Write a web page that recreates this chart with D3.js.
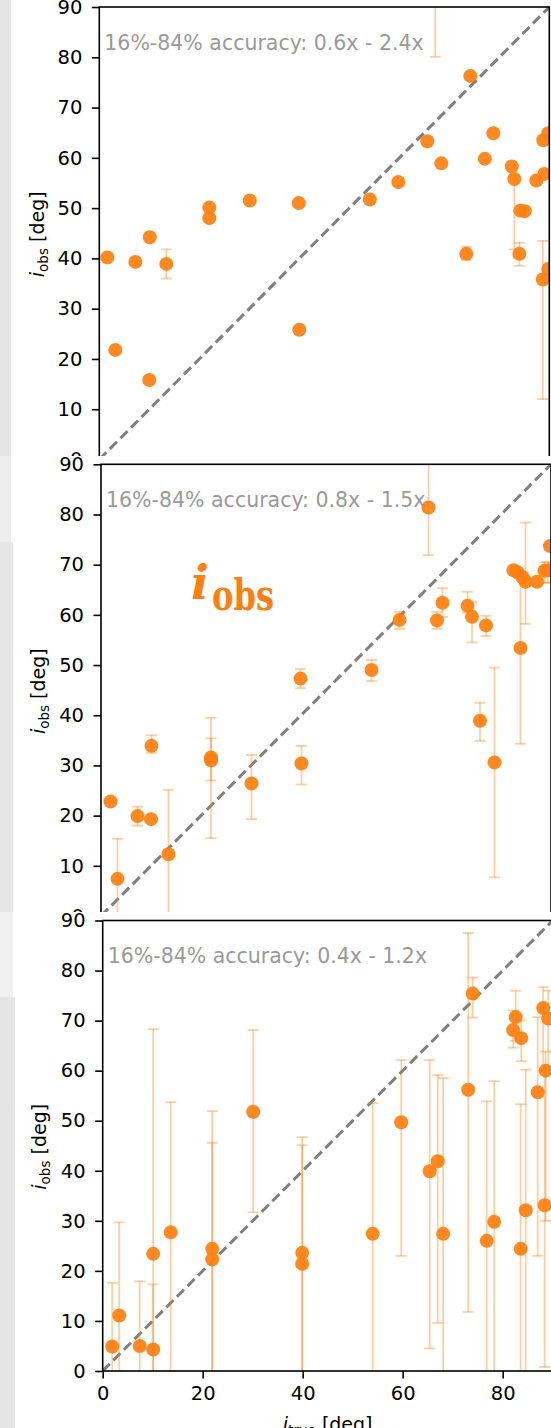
<!DOCTYPE html>
<html>
<head>
<meta charset="utf-8">
<script src="https://cdn.jsdelivr.net/npm/d3@7"></script>
<style>
  body { margin: 0; background: #fff; }
  svg { display: block; font-family: "DejaVu Sans", sans-serif; }
</style>
</head>
<body>
<div id="chart"></div>
<script>
'use strict'

// Tick values (deg).
const yTicks = [0, 10, 20, 30, 40, 50, 60, 70, 80, 90];
const xTicks = [0, 20, 40, 60, 80];

// Panel A: true vs observed inclination, with 16-84% ranges (null = no bar drawn).
const trueA = [1.6, 3.2, 7.2, 10.1, 10.0, 13.4, 22.0, 22.0, 30.1, 39.9, 40.0, 54.1, 59.8, 65.6, 67.2, 68.4,
    73.4, 74.2, 77.1, 78.8, 82.5, 83.0, 84.0, 84.2, 85.1, 87.4, 88.7, 88.8, 89.0, 89.8, 89.8];
const obsA = [40.2, 21.8, 39.3, 44.2, 15.8, 38.9, 50.1, 48.0, 51.5, 51.0, 25.8, 51.7, 55.2, 63.3, 95, 58.9,
    40.9, 76.3, 59.8, 64.9, 58.3, 55.8, 40.9, 49.5, 49.4, 55.5, 35.8, 63.5, 56.8, 64.9, 37.9];
const loA = [null, null, 38.6, null, null, 36.0, null, null, null, null, null, null, null, null, 80.1, null,
    39.7, null, null, null, null, 41.8, 38.5, null, null, null, 12.0, null, null, null, null];
const hiA = [null, null, 40.0, null, null, 41.8, null, null, null, null, null, null, null, null, 100, null,
    42.3, null, null, null, null, 56.5, 43.1, null, null, null, 43.5, null, null, null, null];

// Panel B.
const trueB = [1.9, 3.3, 7.3, 10.0, 10.1, 13.5, 22.0, 22.0, 30.1, 39.9, 40.1, 54.1, 59.7, 65.5, 67.2, 68.3,
    73.3, 74.2, 75.8, 77.0, 78.7, 82.5, 83.3, 83.9, 84.3, 84.9, 87.2, 88.7, 89.4, 89.8];
const obsB = [22.8, 7.4, 19.9, 19.3, 33.9, 12.3, 31.6, 31.0, 26.4, 47.3, 30.4, 49.0, 59.0, 81.4, 58.9, 62.4,
    61.8, 59.6, 38.9, 57.9, 30.6, 68.9, 68.5, 53.4, 67.5, 66.6, 66.6, 68.8, 68.9, 73.7];
const loB = [null, -5, 18.0, null, 32.5, -5, 27.0, 15.5, 19.3, 45.4, 26.2, 46.8, 57.2, 71.9, 57.2, 59.6,
    60.5, 54.5, 34.9, 55.8, 7.7, null, null, 34.3, null, 58.2, null, 66.4, 66.4, null];
const hiB = [null, 15.4, 21.8, null, 36.0, 25.1, 35.4, 39.5, 32.1, 49.2, 33.9, 51.0, 60.6, 95, 60.6, 65.3,
    64.6, 62.5, 42.5, 59.8, 49.5, null, null, 68.7, null, 78.4, null, 70.5, 70.5, null];

// Panel C.
const trueC = [1.9, 3.3, 7.4, 10.1, 10.1, 13.6, 21.9, 21.9, 30.1, 39.9, 39.9, 54.0, 59.7, 65.4, 67.0, 68.1,
    73.1, 74.0, 76.8, 78.3, 82.1, 82.6, 83.7, 83.6, 84.6, 87.0, 88.1, 88.6, 88.4, 89.1];
const obsC = [4.9, 11.1, 5.0, 4.3, 23.4, 27.7, 24.4, 22.3, 51.8, 23.6, 21.4, 27.4, 49.7, 39.9, 41.9, 27.4,
    56.2, 75.4, 26.0, 29.8, 68.1, 70.7, 66.5, 24.4, 32.1, 55.7, 72.5, 60.0, 33.1, 70.4];
const loC = [-5, -5, -5, -5, -5, 0, -5, -5, 31.7, -5, -5, -5, 23.0, 4.5, 9.6, -5,
    11.8, 70.6, -5, -5, 64.6, 66.0, 61.9, -5, -5, 23.0, 60.0, 30.0, 0.8, 60.0];
const hiC = [17.6, 29.7, 17.9, 17.3, 68.3, 53.7, 51.9, 45.6, 68.1, 46.7, 45.1, 53.5, 62.1, 62.1, 59.1, 58.5,
    87.5, 78.6, 53.9, 57.9, 72.0, 76.0, 70.0, 53.3, 60.2, 70.7, 76.7, 63.8, 60.0, 76.0];

const accuracy = ['16%-84% accuracy: 0.6x - 2.4x', '16%-84% accuracy: 0.8x - 1.5x', '16%-84% accuracy: 0.4x - 1.2x'];

// Set dimensions.
let width = 551,
    height = 1428,
    orange = '#ff7f0e',
    tickFont = '19.5px';

// Each stacked panel: left of x-axis, bottom (0 deg) and top (90 deg) pixel rows, cover top.
let panels = [
    {x0: 99.3, yBot: 459.5, yTop: 7, cover: null, t: trueA, o: obsA, lo: loA, hi: hiA},
    {x0: 101, yBot: 916, yTop: 464.3, cover: 456, t: trueB, o: obsB, lo: loB, hi: hiB},
    {x0: 102.7, yBot: 1371, yTop: 920.5, cover: 912, t: trueC, o: obsC, lo: loC, hi: hiC},
];

let svg = d3.select('#chart')
    .append('svg')
        .attr('width', width)
        .attr('height', height);

let defs = svg.append('defs');

panels.forEach((p, k) => {
    let x = d3.scaleLinear().domain([0, 90]).range([p.x0, p.x0 + 450]);
    let y = d3.scaleLinear().domain([0, 90]).range([p.yBot, p.yTop]);

    let g = svg.append('g').attr('class', 'panel');

    // White background of this (overlapping) panel.
    if (p.cover !== null) {
        g.append('rect')
            .attr('x', 11).attr('y', p.cover)
            .attr('width', width).attr('height', height - p.cover)
            .attr('fill', '#fff');
    }

    defs.append('clipPath').attr('id', 'clip' + k)
        .append('rect')
            .attr('x', x(0)).attr('y', y(90))
            .attr('width', x(90) - x(0)).attr('height', y(0) - y(90));

    let plot = g.append('g').attr('clip-path', `url(#clip${k})`);

    // One-to-one line.
    plot.append('line')
        .attr('x1', x(0)).attr('y1', y(0))
        .attr('x2', x(90)).attr('y2', y(90))
        .attr('stroke', '#7f7f7f')
        .attr('stroke-width', 3)
        .attr('stroke-dasharray', '10,5');

    let idx = d3.range(p.t.length);

    // Error bars.
    let bars = plot.append('g')
        .attr('stroke', orange)
        .attr('stroke-opacity', 0.38)
        .attr('stroke-width', 1.8);

    idx.filter(i => p.lo[i] !== null).forEach(i => {
        bars.append('line')
            .attr('x1', x(p.t[i])).attr('x2', x(p.t[i]))
            .attr('y1', y(p.lo[i])).attr('y2', y(p.hi[i]));
        [p.lo[i], p.hi[i]].forEach(v => {
            bars.append('line')
                .attr('x1', x(p.t[i]) - 5.5).attr('x2', x(p.t[i]) + 5.5)
                .attr('y1', y(v)).attr('y2', y(v));
        });
    });

    // Points.
    plot.append('g')
        .selectAll('circle')
        .data(idx)
        .join('circle')
            .attr('cx', i => x(p.t[i]))
            .attr('cy', i => y(p.o[i]))
            .attr('r', 7)
            .attr('fill', orange)
            .attr('fill-opacity', 0.92);

    // Frame.
    g.append('rect')
        .attr('x', x(0)).attr('y', y(90))
        .attr('width', x(90) - x(0)).attr('height', y(0) - y(90))
        .attr('fill', 'none')
        .attr('stroke', '#000')
        .attr('stroke-width', 1.6);

    // Y axis.
    g.append('g')
        .attr('transform', `translate(${x(0)},0)`)
        .call(d3.axisLeft(y).tickValues(yTicks).tickSize(7.5).tickPadding(9.5))
        .call(a => a.select('.domain').remove())
        .call(a => a.selectAll('.tick line').attr('stroke', '#000').attr('stroke-width', 1.6))
        .call(a => a.selectAll('.tick text')
            .attr('fill', '#000')
            .style('font-family', '"DejaVu Sans", sans-serif')
            .style('font-size', tickFont));

    // Y label.
    let yl = g.append('text')
        .attr('transform', `translate(${44 + k},${(y(0) + y(90)) / 2 + 1}) rotate(-90)`)
        .attr('text-anchor', 'middle')
        .style('font-size', '19px')
        .attr('fill', '#000');
    yl.append('tspan').text('i').style('font-style', 'italic');
    yl.append('tspan').text('obs').attr('dy', 4).style('font-size', '13.5px');
    yl.append('tspan').text(' [deg]').attr('dy', -4);

    // Accuracy note.
    g.append('text')
        .attr('x', x(0) + 5)
        .attr('y', y(90) + 42.5)
        .attr('fill', '#9a9a9a')
        .style('font-size', '20.5px')
        .text(accuracy[k]);

    // X axis only shows on the last panel.
    if (k === panels.length - 1) {
        g.append('g')
            .attr('transform', `translate(0,${y(0)})`)
            .call(d3.axisBottom(x).tickValues(xTicks).tickSize(7.5).tickPadding(8))
            .call(a => a.select('.domain').remove())
            .call(a => a.selectAll('.tick line').attr('stroke', '#000').attr('stroke-width', 1.6))
            .call(a => a.selectAll('.tick text')
                .attr('fill', '#000')
                .style('font-family', '"DejaVu Sans", sans-serif')
                .style('font-size', tickFont));

        let xl = g.append('text')
            .attr('x', x(45))
            .attr('y', y(0) + 60)
            .attr('text-anchor', 'middle')
            .style('font-size', '19px')
            .attr('fill', '#000');
        xl.append('tspan').text('i').style('font-style', 'italic');
        xl.append('tspan').text('true').attr('dy', 4).style('font-size', '13.5px');
        xl.append('tspan').text(' [deg]').attr('dy', -4);
    }

    // Big orange symbol on the middle panel.
    if (k === 1) {
        g.append('text')
            .attr('x', 191).attr('y', 599)
            .attr('fill', orange)
            .style('font-family', '"DejaVu Serif", serif')
            .style('font-weight', 'bold')
            .style('font-style', 'italic')
            .style('font-size', '47px')
            .text('i');
        g.append('text')
            .attr('x', 212).attr('y', 610)
            .attr('fill', orange)
            .attr('textLength', 62)
            .attr('lengthAdjust', 'spacingAndGlyphs')
            .style('font-family', '"DejaVu Serif", serif')
            .style('font-weight', 'bold')
            .style('font-size', '42px')
            .text('obs');
    }
});

// Grey strips on the left edge.
let strips = [
    {y: 0, h: 456, w: 11, c: '#e4e4e4'},
    {y: 456, h: 86, w: 11, c: '#ededed'},
    {y: 542, h: 370, w: 13, c: '#e6e6e6'},
    {y: 912, h: 85, w: 13, c: '#f0f0f0'},
    {y: 997, h: 431, w: 15, c: '#e4e4e4'},
];
svg.append('g')
    .selectAll('rect')
    .data(strips)
    .join('rect')
        .attr('x', 0).attr('y', d => d.y)
        .attr('width', d => d.w).attr('height', d => d.h)
        .attr('fill', d => d.c);
</script>
</body>
</html>
